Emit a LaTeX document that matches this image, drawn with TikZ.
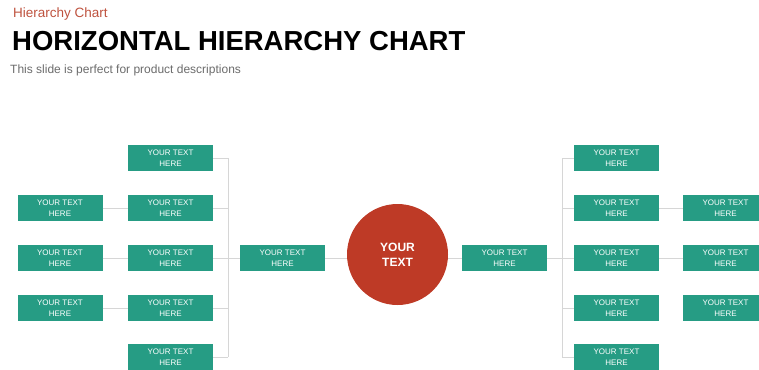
\documentclass[tikz,border=0pt]{standalone}
\usepackage{fontspec}
\setmainfont{Liberation Sans}
\usetikzlibrary{positioning}

\definecolor{boxteal}{RGB}{38,156,132}
\definecolor{hubred}{RGB}{190,58,38}
\definecolor{kicker}{RGB}{190,82,62}
\definecolor{wire}{RGB}{214,214,214}

\begin{document}
\begin{tikzpicture}[x=1pt,y=-1pt]
          \tikzstyle{item} = [fill=boxteal, text=white, minimum width=85pt, minimum height=26pt, inner sep=0pt, align=center, font=\fontsize{8}{10.5}\selectfont]
          \tikzstyle{hub} = [circle, fill=hubred, text=white, minimum size=101pt, inner sep=0pt, align=center, font=\fontsize{12}{15}\selectfont\bfseries]
          \tikzstyle{link} = [draw=wire, line width=1pt]

          \useasboundingbox (0,0) rectangle (759,369);

          % Heading
          \node[anchor=base west, inner sep=0pt, text=kicker, font=\fontsize{13.5}{15}\selectfont] (kick) at (13,18) {Hierarchy Chart};
          \node[anchor=base west, inner sep=0pt, font=\fontsize{27.5}{30}\selectfont\bfseries] (title) at (12,51) {HORIZONTAL HIERARCHY CHART};
          \node[anchor=base west, inner sep=0pt, text=black!58, font=\fontsize{12}{14}\selectfont] (sub) at (10,73) {This slide is perfect for product descriptions};

          % Nodes
          \node[hub] (hub) at (397.5,254.5) {YOUR\\TEXT};
          \node[item] (lc) at (282.5,258) {YOUR TEXT\\HERE};
          \node[item] (rc) at (504.5,258) {YOUR TEXT\\HERE};
          \coordinate (lbar) at (228,258);
          \coordinate (rbar) at (562,258);

          \foreach \i / \y in {1/158, 2/208, 3/258, 4/308, 5/357} {%
            \node[item] (li\i) at (170.5,\y) {YOUR TEXT\\HERE};
            \node[item] (ri\i) at (616.5,\y) {YOUR TEXT\\HERE};
          }
          \foreach \i / \y in {1/208, 2/258, 3/308} {%
            \node[item] (lo\i) at (60,\y) {YOUR TEXT\\HERE};
            \node[item] (ro\i) at (725.5,\y) {YOUR TEXT\\HERE};
          }

          % Edges
          \foreach \i in {1,...,5} {%
            \draw[link] (li\i.east) -- (li\i.east -| lbar);
            \draw[link] (ri\i.west) -- (ri\i.west -| rbar);
          }
          \draw[link] (li1.east -| lbar) -- (li5.east -| lbar);
          \draw[link] (ri1.west -| rbar) -- (ri5.west -| rbar);
          \draw[link] (lbar) -- (lc.west);
          \draw[link] (lc.east) -- (lc.east -| hub.west);
          \draw[link] (rc.west -| hub.east) -- (rc.west);
          \draw[link] (rc.east) -- (rbar);
          \draw[link] (lo1.east) -- (li2.west);
          \draw[link] (lo2.east) -- (li3.west);
          \draw[link] (lo3.east) -- (li4.west);
          \draw[link] (ri2.east) -- (ro1.west);
          \draw[link] (ri3.east) -- (ro2.west);

        \end{tikzpicture}
\end{document}
